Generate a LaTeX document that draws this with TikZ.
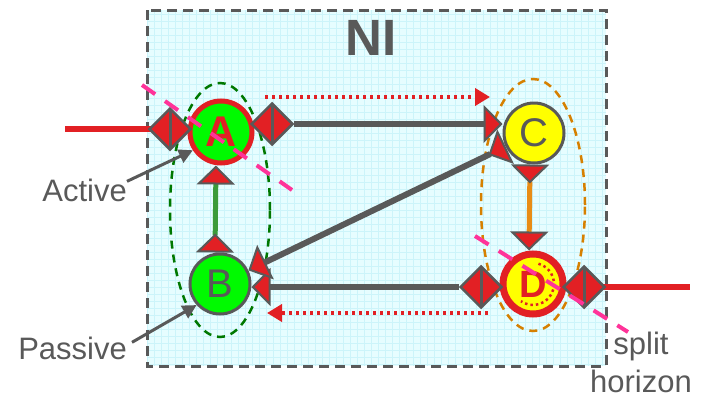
\documentclass[tikz,border=0pt]{standalone}
\usepackage{fontspec}
\setmainfont{Liberation Sans}
\usetikzlibrary{calc,arrows.meta,shapes.geometric}

\definecolor{portred}{RGB}{226,32,36}
\definecolor{txtgray}{RGB}{89,89,89}
\definecolor{nodegreen}{RGB}{0,250,0}
\definecolor{nodeyellow}{RGB}{255,255,0}
\definecolor{linkgreen}{RGB}{58,155,58}
\definecolor{linkorange}{RGB}{232,140,22}
\definecolor{grpgreen}{RGB}{0,120,0}
\definecolor{grporange}{RGB}{214,128,0}
\definecolor{splitpink}{RGB}{255,51,153}
\definecolor{bgcyan}{RGB}{230,253,255}
\definecolor{gridcyan}{RGB}{204,244,250}

\newcommand{\fsz}[1]{\fontsize{#1}{#1}\selectfont}

\begin{document}
\begin{tikzpicture}[
  x=1pt, y=-1pt,
  Flow/.tip={Triangle[width=38pt,length=19pt,line width=2pt,fill=portred,color=txtgray]},
  FlowR/.tip={Triangle[reversed,width=38pt,length=19pt,line width=2pt,fill=portred,color=txtgray]},
  actnode/.style={circle, minimum size=62pt, inner sep=0pt, fill=nodegreen, draw=portred, line width=5pt, text=portred, font=\fsz{43}\bfseries},
  pasnode/.style={circle, minimum size=60pt, inner sep=0pt, fill=nodegreen, draw=txtgray, line width=3pt, text=txtgray, font=\fsz{40}},
  stbnode/.style={circle, minimum size=60pt, inner sep=0pt, fill=nodeyellow, draw=txtgray, line width=3pt, text=txtgray, font=\fsz{40}},
  fwdnode/.style={circle, minimum size=60pt, inner sep=0pt, fill=nodeyellow, draw=portred, line width=7pt, text=portred, font=\fsz{38}\bfseries},
  port/.style={diamond, draw=txtgray, fill=portred, line width=2.5pt, minimum width=42pt, minimum height=42pt, inner sep=0pt,
    path picture={\draw[txtgray, line width=3pt] (path picture bounding box.north) -- (path picture bounding box.south);}},
  link/.style={draw=txtgray, line width=6pt},
  extlink/.style={draw=portred, line width=6.5pt},
  ctrl/.style={draw=portred, line width=4pt, dash pattern=on 3pt off 4pt, -{Triangle[width=17pt,length=15pt,fill=portred]}},
  group/.style={line width=2.5pt, dash pattern=on 8pt off 6pt},
  split/.style={draw=splitpink, line width=4pt, dash pattern=on 16pt off 12pt},
  lbl/.style={text=txtgray, inner sep=0pt, font=\fsz{31}},
  callout/.style={draw=txtgray, line width=3pt, -{Triangle[width=14pt,length=14pt]}},
]
\useasboundingbox (0,0) rectangle (702,399);

% --- NI-Rahmen mit Raster ---
\fill[bgcyan] (147,10) rectangle (606,366);
\draw[gridcyan, line width=0.4pt, step=7pt] (147,366) grid (606,10);
\draw[txtgray, line width=3pt, dash pattern=on 10pt off 6pt] (147,10) rectangle (606,366);
\node[text=txtgray, inner sep=0pt, font=\fsz{51}\bfseries] (ni) at (371,38) {NI};

% --- Gruppen (aktiv/passiv links, Stapel rechts) ---
\draw[group, grpgreen] (220,210) ellipse [x radius=50pt, y radius=127pt];
\draw[group, grporange] (533,205) ellipse [x radius=52pt, y radius=126pt];

% --- Knoten ---
\node[actnode] (A) at (221,132) {A};
\node[pasnode] (B) at (220,284) {B};
\node[stbnode] (C) at (534,133) {C};
\node[fwdnode] (D) at (533,284) {D};
\draw[portred, line width=2.5pt, dash pattern=on 2.5pt off 3pt]
  ($(D)+(75:21pt)$) arc[start angle=75, end angle=-125, radius=21pt];

% --- externe Anschluesse ---
\coordinate (inL) at (65,129);
\coordinate (outD) at (690,287);
\draw[extlink] (inL) -- (170,129);
\draw[extlink] (584,287) -- (outD);
\node[port] (pAl) at (170,129) {};
\node[port] (pAr) at (272,124) {};
\node[port] (pDl) at (481,287) {};
\node[port] (pDr) at (584,287) {};

% --- interne Verbindungen ---
\draw[link, -Flow] (pAr) -- (pAr -| C.west);
\draw[link, -Flow] (pDl) -- (pDl -| B.east);
\draw[link, FlowR-Flow] (C) -- (B);
\draw[draw=linkgreen, line width=5pt, FlowR-Flow] ([xshift=-5pt]B.north) -- ([xshift=-5pt]A.south);
\draw[draw=linkorange, line width=5pt, FlowR-Flow] ([xshift=-4pt]C.south) -- ([xshift=-4pt]D.north);

% --- Steuerfluss (gepunktet) ---
\coordinate (ctlA) at (265,97);
\coordinate (ctlC) at (490,97);
\coordinate (ctlD) at (488,313);
\coordinate (ctlB) at (267,313);
\draw[ctrl] (ctlA) -- (ctlC);
\draw[ctrl] (ctlD) -- (ctlB);

% --- Beschriftungen ---
\node[lbl, anchor=base east] (act) at (127,201) {Active};
\node[lbl, anchor=base east] (pas) at (127,359) {Passive};
\node[lbl, align=center, font=\fontsize{31}{38}\selectfont] (shz) at (641,362) {split\\horizon};
\draw[callout] ([yshift=-3pt]act.north east) -- (A.213);
\draw[callout] ([shift={(5pt,-6pt)}]pas.north east) -- (B.222);

% --- split horizon ---
\coordinate (sh1a) at (142,85);
\coordinate (sh1b) at (292,190);
\coordinate (sh2a) at (475,236);
\coordinate (sh2b) at (628,332);
\draw[split] (sh1a) -- (sh1b);
\draw[split] (sh2a) -- (sh2b);

\end{tikzpicture}
\end{document}
